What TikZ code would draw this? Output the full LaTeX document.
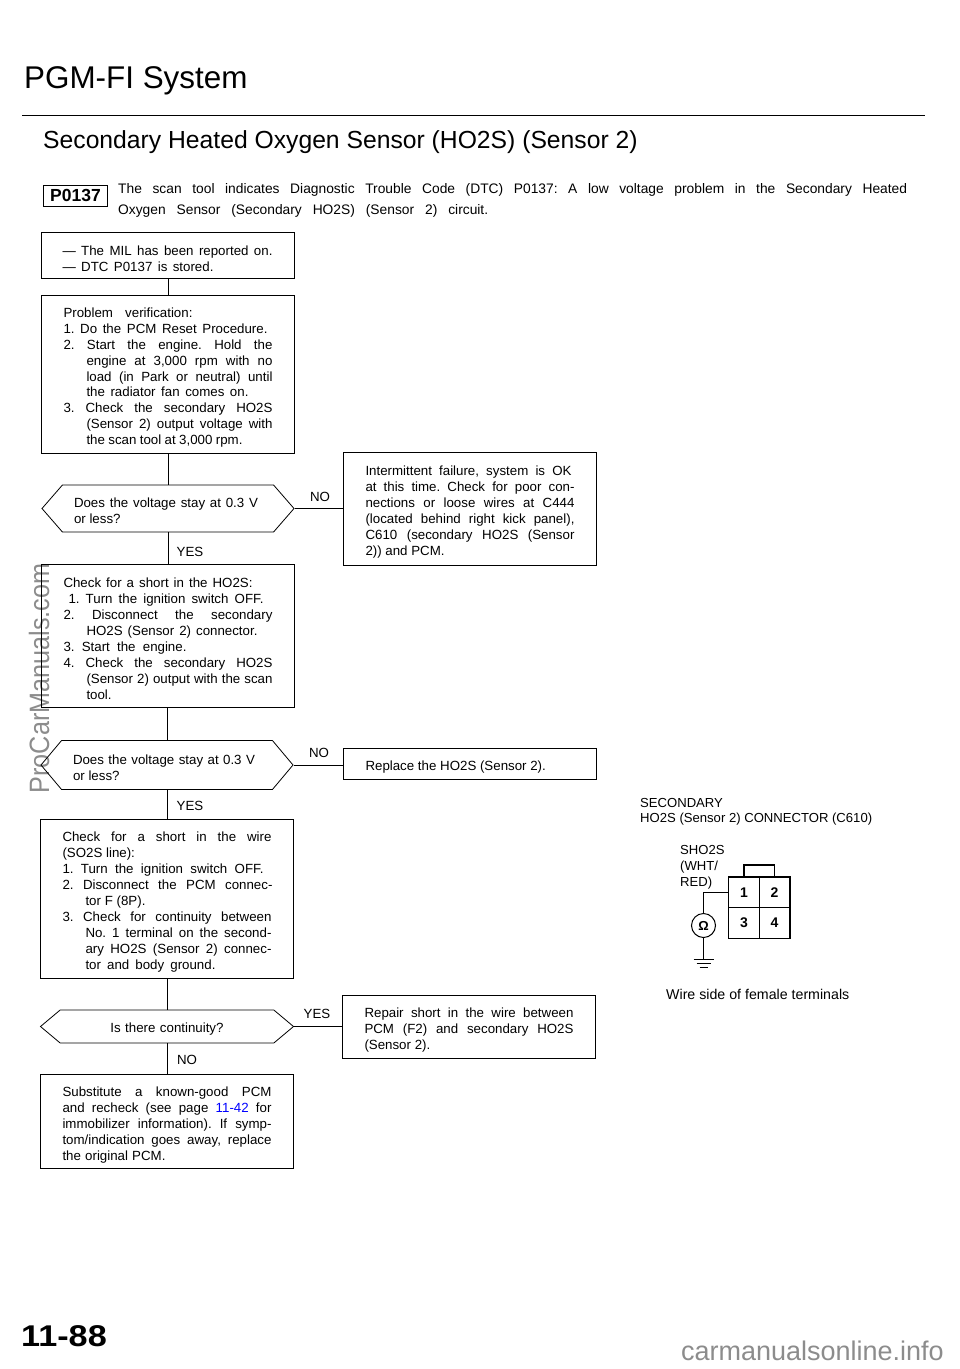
\documentclass[tikz,border=0pt]{standalone}
\usepackage{xcolor}
\usepackage{fontspec}
\setmainfont{Liberation Sans}
\usetikzlibrary{shapes.symbols}
\frenchspacing
\newcommand{\lw}[2]{\makebox[#1pt][s]{#2}}
\newcommand{\jl}[1]{\lw{209}{#1}}
\newcommand{\ji}[1]{\hspace*{23pt}\lw{186}{#1}}
\newcommand{\il}[2]{\hspace*{23pt}\lw{#1}{#2}}
\begin{document}
\begin{tikzpicture}[x=1pt, y=-1pt,
	txt/.style={font=\fontsize{13.3}{16}\selectfont},
	box/.style={draw, txt, text width=209pt, inner xsep=22pt, inner ysep=0pt, align=flush left, line width=0.8pt, execute at begin node={\rule{0pt}{17pt}}},
	ask/.style={draw, txt, shape=signal, signal to=east and west, text width=188pt, inner sep=0pt, align=flush left, line width=0.8pt, execute at begin node={\rule{0pt}{15pt}}},
	lab/.style={txt, inner sep=0pt},
	link/.style={line width=0.8pt},
	cell/.style={draw, line width=0.6pt, minimum width=30.5pt, minimum height=30.5pt, inner sep=0pt, font=\fontsize{14}{14}\selectfont\bfseries},
	wmark/.style={font=\fontsize{28}{28}\selectfont, color=black!45, inner sep=0pt}]
	\useasboundingbox (0,0) rectangle (960,1369);

	%Marks
	\node[wmark, rotate=90, anchor=base] (mark1) at (49,678.5) {\scalebox{0.9}[1]{ProCarManuals.com}};
	\node[wmark, anchor=base east, font=\fontsize{27}{27}\selectfont] (mark2) at (944,1360.5) {carmanualsonline.info};

	%Heading
	\node[anchor=base west, inner sep=0pt, font=\fontsize{31.4}{30}\selectfont] (title) at (24,88.5) {PGM-FI System};
	\coordinate (ruleL) at (22,115.5);
	\coordinate (ruleR) at (925,115.5);
	\draw[line width=1.8pt] (ruleL) -- (ruleR);
	\node[anchor=base west, inner sep=0pt, font=\fontsize{24.7}{24}\selectfont] (sub) at (43,148.5) {Secondary Heated Oxygen Sensor (HO2S) (Sensor 2)};
	\node[draw, line width=0.8pt, minimum width=63.5pt, minimum height=21pt, inner sep=0pt, font=\fontsize{17.5}{18}\selectfont\bfseries] (code) at (75.5,195.5) {P0137};
	\node[anchor=north west, lab, font=\fontsize{13.8}{21}\selectfont, align=left] (intro) at (118,183) {\lw{789}{The scan tool indicates Diagnostic Trouble Code (DTC) P0137: A low voltage problem in the Secondary Heated}\\\lw{370}{Oxygen Sensor (Secondary HO2S) (Sensor 2) circuit.}};

	%Left column
	\node[box, minimum height=46pt, font=\fontsize{13.3}{15.5}\selectfont] (mil) at (168,255) {\hspace*{-1pt}\lw{210}{--- The MIL has been reported on.}\\\hspace*{-1pt}\lw{151}{--- DTC P0137 is stored.}};
	\node[box, minimum height=158pt, font=\fontsize{13.3}{15.8}\selectfont] (verify) at (168,374) {\lw{129}{Problem verification:}\\\lw{204}{1. Do the PCM Reset Procedure.}\\\jl{2. Start the engine. Hold the}\\\ji{engine at 3,000 rpm with no}\\\ji{load (in Park or neutral) until}\\\il{162}{the radiator fan comes on.}\\\jl{3. Check the secondary HO2S}\\\ji{(Sensor 2) output voltage with}\\\il{156}{the scan tool at 3,000 rpm.}};
	\node[ask, minimum width=252pt, minimum height=47pt, signal pointer angle=98] (q1) at (168,508.5) {\lw{184}{Does the voltage stay at 0.3 V}\\or less?};
	\node[box, minimum height=143pt] (short1) at (168,635.5) {\lw{189}{Check for a short in the HO2S:}\\\hspace*{5pt}\lw{195}{1. Turn the ignition switch OFF.}\\\jl{2. Disconnect the secondary}\\\il{171}{HO2S (Sensor 2) connector.}\\\lw{123}{3. Start the engine.}\\\jl{4. Check the secondary HO2S}\\\ji{(Sensor 2) output with the scan}\\\il{26}{tool.}};
	\node[ask, minimum width=252pt, minimum height=49pt, signal pointer angle=100, execute at begin node={\rule{0pt}{12pt}}] (q2) at (167,765) {\lw{182}{Does the voltage stay at 0.3 V}\\or less?};
	\node[box, minimum height=159pt] (short2) at (167,898.5) {\jl{Check for a short in the wire}\\(SO2S line):\\\lw{201}{1. Turn the ignition switch OFF.}\\\lw{210}{2. Disconnect the PCM connec-}\\\il{60}{tor F (8P).}\\\jl{3. Check for continuity between}\\\ji{No. 1 terminal on the second-}\\\ji{ary HO2S (Sensor 2) connec-}\\\il{130}{tor and body ground.}};
	\node[ask, minimum width=253pt, minimum height=33pt, signal pointer angle=80, align=center] (q3) at (167,1026.5) {Is there continuity?};
	\node[box, minimum height=94pt] (pcm) at (167,1121) {\jl{Substitute a known-good PCM}\\\jl{and recheck (see page \textcolor{blue}{11-42} for}\\\jl{immobilizer information). If symp-}\\\jl{tom/indication goes away, replace}\\\lw{103}{the original PCM.}};

	%Right column
	\node[box, minimum height=113pt] (fail) at (470,508.5) {\lw{206}{Intermittent failure, system is OK}\\\jl{at this time. Check for poor con-}\\\jl{nections or loose wires at C444}\\\jl{(located behind right kick panel),}\\\jl{C610 (secondary HO2S (Sensor}\\2)) and PCM.};
	\node[box, minimum height=31pt] (replace) at (470,763.5) {Replace the HO2S (Sensor 2).};
	\node[box, minimum height=63pt] (repair) at (469,1026.5) {\jl{Repair short in the wire between}\\\jl{PCM (F2) and secondary HO2S}\\(Sensor 2).};

	%Connecting lines
	\draw[link] (mil.south) -- (verify.north);
	\draw[link] (verify.south) -- (q1.north);
	\draw[link] (q1.south) -- (short1.north);
	\draw[link] (q2.north |- short1.south) -- (q2.north);
	\draw[link] (q2.south) -- (short2.north);
	\draw[link] (short2.south) -- (q3.north);
	\draw[link] (q3.south) -- (pcm.north);
	\draw[link] (q1.east) -- (fail.west);
	\draw[link] (q2.east) -- (replace.west |- q2.east);
	\draw[link] (q3.east) -- (repair.west);

	\node[lab] (yes1) at (190,552) {YES};
	\node[lab] (no1) at (320,497) {NO};
	\node[lab] (yes2) at (190,806) {YES};
	\node[lab] (no2) at (319,753) {NO};
	\node[lab] (yes3) at (317,1014) {YES};
	\node[lab] (no3) at (187,1060) {NO};

	%Connector
	\node[anchor=north west, lab, align=left, font=\fontsize{13.1}{15}\selectfont] (conn) at (640,798.5) {SECONDARY\\HO2S (Sensor 2) CONNECTOR (C610)};
	\node[anchor=north west, lab, align=left, font=\fontsize{13.1}{16}\selectfont] (wire) at (680,845) {SHO2S\\(WHT/\\RED)};
	\foreach \n/\px/\py in {1/744/892.5, 2/774.5/892.5, 3/744/923, 4/774.5/923}
		\node[cell] (t\n) at (\px,\py) {\n};
	\draw[line width=1.6pt] (t1.north west) rectangle (t4.south east);
	\draw[line width=1.2pt] (t1.north) -- ++(0,-12) -| (t2.north);
	\node[draw, circle, line width=1pt, minimum size=24pt, inner sep=0pt, font=\fontsize{13}{13}\selectfont\bfseries] (ohm) at (703.5,925.5) {Ω};
	\draw[line width=1.2pt] (t1.west) -| (ohm.north);
	\coordinate (gnd) at (703.5,959);
	\draw[line width=1.2pt] (ohm.south) -- (gnd);
	\draw[line width=1pt] (gnd) +(-10,0) -- +(10,0);
	\draw[line width=1pt] (gnd) +(-7,4) -- +(7,4);
	\draw[line width=1pt] (gnd) +(-4,8) -- +(4,8);
	\node[lab, anchor=base west, font=\fontsize{14.2}{15}\selectfont] (side) at (666,999) {Wire side of female terminals};

	%Page number
	\node[anchor=base west, inner sep=0pt, font=\fontsize{30}{30}\selectfont\bfseries] (page) at (21,1346) {\scalebox{1.14}[1]{11-88}};
\end{tikzpicture}
\end{document}
